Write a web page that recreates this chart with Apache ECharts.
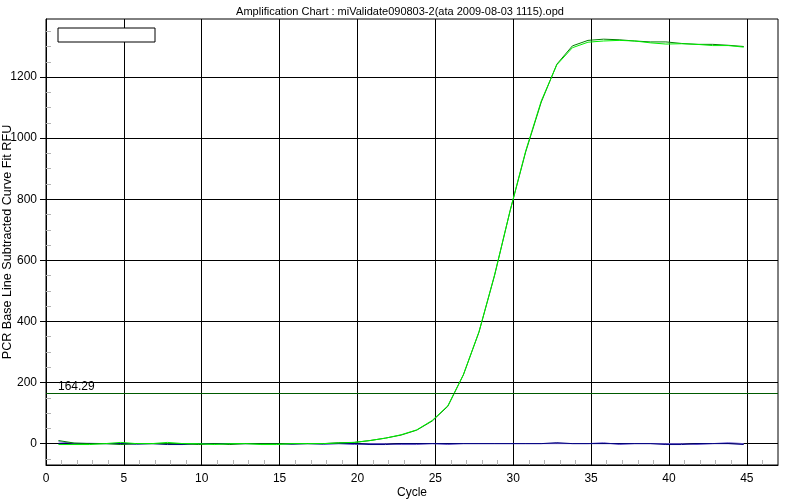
<!DOCTYPE html>
<html>
<head>
<meta charset="utf-8">
<script src="https://cdn.jsdelivr.net/npm/echarts@6/dist/echarts.min.js"></script>
<style>
html,body{margin:0;padding:0;background:#fff;}
#chart{width:800px;height:500px;}
</style>
</head>
<body>
<div id="chart"></div>
<script>
var titleText = 'Amplification Chart : miValidate090803-2(ata 2009-08-03 1115).opd';
var xName = 'Cycle';
var yName = 'PCR Base Line Subtracted Curve Fit RFU';

var cycles = [0.8,1.8,2.8,3.8,4.8,5.8,6.8,7.8,8.8,9.8,10.8,11.8,12.8,13.8,14.8,15.8,16.8,17.8,18.8,19.8,20.8,21.8,22.8,23.8,24.8,25.8,26.8,27.8,28.8,29.8,30.8,31.8,32.8,33.8,34.8,35.8,36.8,37.8,38.8,39.8,40.8,41.8,42.8,43.8,44.8];

var darkGreen = [10,2,0,0,-3,0,0,0,0,-3,0,-3,0,0,0,0,0,0,3,4,10,18,28,44,74,122,225,365,550,762,955,1118,1242,1302,1320,1324,1322,1318,1315,1315,1310,1307,1307,1304,1300];
var lightGreen = [-3,-3,-3,0,4,0,0,4,0,0,-3,0,0,-3,-3,0,0,0,2,4,10,18,29,45,76,124,226,366,552,763,958,1122,1240,1296,1314,1318,1320,1318,1312,1308,1309,1307,1303,1303,1298];
var navy = [0,-2,0,0,0,0,0,-3,-3,0,0,0,0,0,0,-2,0,0,0,0,-3,-3,0,0,0,0,0,0,0,0,0,0,3,0,0,0,0,0,0,-3,-3,0,0,0,-3];
var slate = [6,1,1,0,0,-3,0,0,0,0,0,0,0,0,0,0,0,-3,0,-3,0,0,-3,-3,0,-3,0,0,0,0,0,0,0,0,0,3,-3,0,0,0,0,-3,0,3,0];

var threshold = 164.29;

var xMajor = [0,5,10,15,20,25,30,35,40,45];
var xMinor = [1,2,3,4,6,7,8,9,11,12,13,14,16,17,18,19,21,22,23,24,26,27,28,29,31,32,33,34,36,37,38,39,41,42,43,44,46];
var yMajor = [0,200,400,600,800,1000,1200];
var yMinor = [-50,50,100,150,250,300,350,450,500,550,650,700,750,850,900,950,1050,1100,1150,1250,1300,1350];
var xMin = 0, xMax = 47, yMin = -70, yMax = 1390;

function pairs(ys){ return cycles.map(function(c,i){ return [c, ys[i]]; }); }

var chart = echarts.init(document.getElementById('chart'), null, {renderer:'canvas'});
var font = 'Liberation Sans, Arial, sans-serif';
var grid = {left:46, top:19, right:22, bottom:35, containLabel:false, outerBoundsMode:'none', show:true, borderColor:'#000', borderWidth:1, backgroundColor:'#fff'};

function lineSeries(name, ys, color, extra){
  var s = {name:name, type:'line', data:pairs(ys), showSymbol:false, symbol:'none', animation:false,
    lineStyle:{color:color, width:1}, itemStyle:{color:color}, z:2};
  if (extra) for (var k in extra) s[k]=extra[k];
  return s;
}

chart.setOption({
  animation:false,
  backgroundColor:'#fff',
  textStyle:{fontFamily:font},
  title:{text:titleText, left:'center', top:1, textStyle:{fontSize:11, fontWeight:'normal', color:'#000', fontFamily:font}},
  grid:grid,
  graphic:[{type:'rect', shape:{x:58, y:28, width:97, height:14}, style:{fill:'#fff', stroke:'#000', lineWidth:1}, z:100}],
  xAxis:[{
    type:'value', min:xMin, max:xMax, interval:5, position:'bottom',
    name:xName, nameLocation:'middle', nameGap:22, nameMoveOverlap:false, nameTextStyle:{fontSize:12, color:'#000', fontFamily:font},
    axisLine:{show:true, onZero:false, lineStyle:{color:'#000', width:1}},
    axisTick:{show:false, customValues:xMajor},
    axisLabel:{color:'#000', fontSize:12, margin:8, fontFamily:font, customValues:xMajor, formatter:function(v){return String(v);}},
    splitLine:{show:true, lineStyle:{color:'#000', width:1}}
  },{
    type:'value', min:xMin, max:xMax, position:'bottom', offset:0,
    axisLine:{show:false, onZero:false},
    axisTick:{show:true, inside:true, length:5, lineStyle:{color:'#b4b4b4'}, customValues:xMinor},
    axisLabel:{show:false}, splitLine:{show:false}
  }],
  yAxis:[{
    type:'value', min:yMin, max:yMax, position:'left',
    name:yName, nameLocation:'middle', nameGap:32, nameRotate:90, nameMoveOverlap:false, nameTextStyle:{fontSize:12.6, color:'#000', fontFamily:font},
    axisLine:{show:true, onZero:false, lineStyle:{color:'#000', width:1}},
    axisTick:{show:true, inside:false, length:6, lineStyle:{color:'#000'}, customValues:yMajor},
    axisLabel:{color:'#000', fontSize:12, margin:9, fontFamily:font, customValues:yMajor, formatter:function(v){return String(v);}},
    splitLine:{show:true, lineStyle:{color:'#000', width:1}}
  },{
    type:'value', min:yMin, max:yMax, position:'left', offset:0,
    axisLine:{show:false, onZero:false},
    axisTick:{show:true, inside:true, length:5, lineStyle:{color:'#b4b4b4'}, customValues:yMinor},
    axisLabel:{show:false}, splitLine:{show:false}
  }],
  series:[
    lineSeries('s4', slate, '#6a5acd'),
    lineSeries('s3', navy, '#000080'),
    lineSeries('s1', darkGreen, '#008000', {
      markLine:{silent:true, symbol:['none','none'], animation:false,
        lineStyle:{color:'#005a00', width:1, type:'solid'},
        label:{show:true, position:'insideStartTop', formatter:String(threshold), color:'#000', fontSize:12, fontFamily:font, distance:[12,1]},
        data:[{yAxis:threshold}]}
    }),
    lineSeries('s2', lightGreen, '#00ee00')
  ]
});
</script>
</body>
</html>
